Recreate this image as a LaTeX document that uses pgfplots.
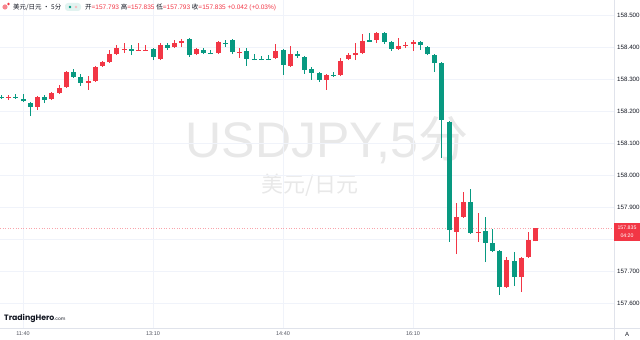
\documentclass[border=0pt]{standalone}
\usepackage{fontspec}
\setmainfont{Liberation Sans}
\newfontfamily\cjk{Noto Sans CJK SC}
\newfontfamily\logofont{Poppins}
\usepackage{pgfplots}
\usepackage{pgfplotstable}
\pgfplotsset{compat=1.18}
\definecolor{upc}{HTML}{F23645}
\definecolor{dnc}{HTML}{089981}
\definecolor{gridc}{HTML}{F0F3FA}
\definecolor{sepc}{HTML}{E0E3EB}
\definecolor{txtc}{HTML}{131722}
\definecolor{labc}{HTML}{50535E}

\pgfplotstableread{
x lo hi l h
1 158.241 158.244 158.234 158.250
5 158.213 158.244 158.203 158.247
7 158.238 158.256 158.234 158.259
8 158.256 158.272 158.253 158.281
9 158.275 158.322 158.272 158.325
12 158.289 158.294 158.266 158.309
13 158.294 158.338 158.291 158.341
14 158.341 158.353 158.338 158.356
15 158.353 158.378 158.350 158.391
16 158.378 158.397 158.375 158.406
17 158.392 158.395 158.381 158.412
19 158.390 158.392 158.388 158.412
20 158.390 158.392 158.388 158.406
22 158.363 158.406 158.359 158.412
24 158.400 158.412 158.397 158.422
25 158.412 158.419 158.400 158.425
27 158.378 158.394 158.375 158.397
30 158.381 158.416 158.378 158.419
33 158.383 158.386 158.366 158.397
38 158.366 158.388 158.363 158.409
40 158.341 158.378 158.338 158.403
45 158.297 158.313 158.266 158.316
47 158.313 158.356 158.309 158.366
48 158.363 158.375 158.359 158.381
49 158.375 158.381 158.359 158.412
50 158.381 158.419 158.378 158.440
52 158.422 158.444 158.412 158.447
55 158.394 158.403 158.391 158.428
56 158.404 158.406 158.397 158.416
57 158.408 158.416 158.388 158.422
63 157.822 157.869 157.753 157.912
64 157.869 157.916 157.866 157.947
66 157.820 157.823 157.791 157.881
70 157.650 157.734 157.647 157.744
72 157.681 157.741 157.634 157.744
73 157.744 157.797 157.741 157.822
74 157.793 157.835 157.793 157.835
}\redtab

\pgfplotstableread{
x lo hi l h
0 158.242 158.245 158.238 158.250
2 158.243 158.245 158.238 158.253
3 158.230 158.239 158.228 158.253
4 158.213 158.225 158.184 158.228
6 158.234 158.244 158.225 158.250
10 158.306 158.322 158.303 158.331
11 158.288 158.306 158.278 158.316
18 158.389 158.394 158.375 158.406
21 158.369 158.394 158.359 158.397
23 158.398 158.406 158.391 158.412
26 158.375 158.425 158.369 158.428
28 158.381 158.391 158.378 158.397
29 158.380 158.382 158.378 158.391
31 158.411 158.414 158.400 158.422
32 158.384 158.422 158.378 158.425
34 158.363 158.388 158.341 158.397
35 158.362 158.364 158.359 158.378
36 158.362 158.364 158.359 158.372
37 158.362 158.364 158.359 158.375
39 158.344 158.391 158.313 158.394
41 158.372 158.378 158.366 158.388
42 158.328 158.369 158.316 158.372
43 158.319 158.331 158.297 158.338
44 158.297 158.319 158.291 158.322
46 158.309 158.313 158.306 158.322
51 158.417 158.422 158.416 158.444
53 158.416 158.444 158.409 158.447
54 158.394 158.416 158.388 158.419
58 158.405 158.416 158.391 158.419
59 158.378 158.400 158.375 158.403
60 158.350 158.375 158.322 158.378
61 158.172 158.350 158.053 158.353
62 157.828 158.166 157.791 158.169
65 157.819 157.916 157.816 157.956
67 157.788 157.825 157.728 157.869
68 157.763 157.788 157.759 157.831
69 157.650 157.763 157.625 157.766
71 157.681 157.731 157.653 157.759
}\greentab

\begin{document}
\begin{tikzpicture}[x=1pt,y=1pt]
% watermark
\node[text=black!9, font=\fontsize{50}{50}\selectfont, inner sep=0] at (327,200) {USDJPY,5{\cjk 分}};
\node[text=black!9, font=\cjk\fontsize{22}{22}\selectfont, inner sep=0] at (310,155) {美元/日元};

\begin{axis}[at={(0pt,12pt)}, anchor=south west, scale only axis,
  width=614pt, height=328pt,
  xmin=-0.185, xmax=84.83, ymin=157.522, ymax=158.547,
  axis line style={draw=none}, major tick length=0pt,
  grid=major, major grid style={gridc, line width=0.8pt},
  xtick={3,21,39,57}, xticklabels={11:40,13:10,14:40,16:10},
  xticklabel style={font=\fontsize{5.5}{6}\selectfont, text=labc, anchor=center, yshift=-6pt},
  ytick={157.6,157.7,157.8,157.9,158.0,158.1,158.2,158.3,158.4,158.5},
  yticklabels={157.600,157.700,,157.900,158.000,158.100,158.200,158.300,158.400,158.500},
  yticklabel pos=right,
  yticklabel style={font=\fontsize{6.2}{7}\selectfont, text=txtc, anchor=west, inner sep=0pt, xshift=3pt},
  candle/.style={draw=none, mark=none, error bars/.cd, y dir=plus, y explicit, error mark=none},
]
\addplot[upc!45, dotted, line width=0.6pt] coordinates {(-0.185,157.835) (84.83,157.835)};
% wicks
\addplot[candle, error bar style={draw=upc, line width=0.9pt}]
  table[x=x, y=l, y error plus expr=\thisrow{h}-\thisrow{l}] {\redtab};
\addplot[candle, error bar style={draw=dnc, line width=0.9pt}]
  table[x=x, y=l, y error plus expr=\thisrow{h}-\thisrow{l}] {\greentab};
% bodies
\addplot[candle, error bar style={draw=upc, line width=5pt}]
  table[x=x, y=lo, y error plus expr=\thisrow{hi}-\thisrow{lo}] {\redtab};
\addplot[candle, error bar style={draw=dnc, line width=5pt}]
  table[x=x, y=lo, y error plus expr=\thisrow{hi}-\thisrow{lo}] {\greentab};
\end{axis}

% separators
\draw[sepc, line width=0.8pt] (614,0) -- (614,340);
\draw[sepc, line width=0.8pt] (0,12) -- (640,12);

% current price box
\fill[upc] (614,99) rectangle (640,117);
\node[text=white, font=\fontsize{5.2}{6}\selectfont, inner sep=0] at (627,112) {157.835};
\node[text=white, font=\fontsize{5.2}{6}\selectfont, inner sep=0] at (627,104) {04:20};

% header
\fill[upc!60] (5,333) circle (2.6);
\fill[upc] (8.5,336) circle (1.4);
\node[anchor=west, inner sep=0, text=txtc, font=\cjk\fontsize{6.5}{7}\selectfont] at (13,333) {美元/日元 · 5分 ·};
\fill[dnc!12, rounded corners=3pt] (65,329) rectangle (81,337);
\fill[dnc] (70,333) circle (1.3);
\fill[upc!35] (76,333) circle (1.3);
\node[anchor=west, inner sep=0, text=txtc, font=\fontsize{6.5}{7}\selectfont] at (85,333)
 {{\cjk 开}\textcolor{upc}{=157.793} {\cjk 高}\textcolor{upc}{=157.835} {\cjk 低}\textcolor{upc}{=157.793} {\cjk 收}\textcolor{upc}{=157.835} \textcolor{upc}{+0.042 (+0.03\%)}};

% logo
\node[anchor=west, inner sep=0, text=txtc] at (4,22) {{\logofont\bfseries\fontsize{7.8}{8}\selectfont TradingHero}{\logofont\fontsize{4.5}{5}\selectfont .com}};
% auto scale button
\node[text=txtc, font=\fontsize{6}{7}\selectfont, inner sep=0] at (627,6) {A};

\pgfresetboundingbox
\useasboundingbox (0,0) rectangle (640,340);
\end{tikzpicture}
\end{document}
